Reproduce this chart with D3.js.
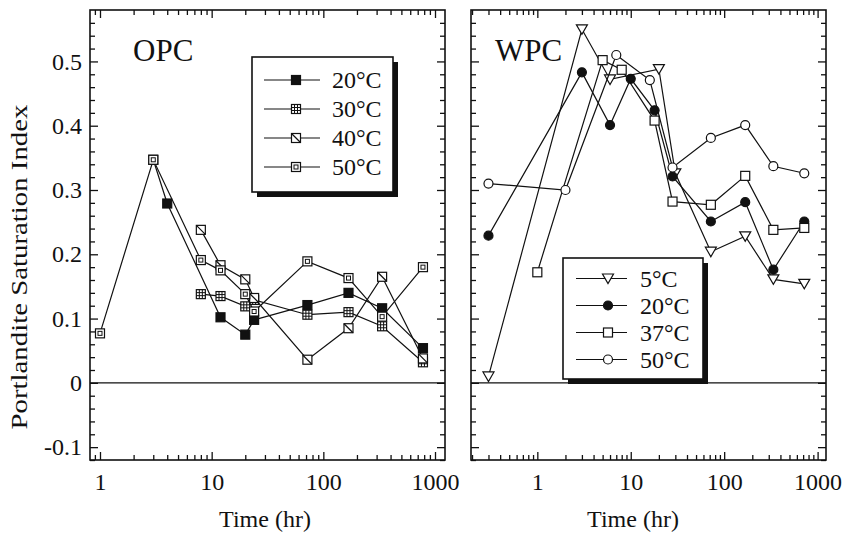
<!DOCTYPE html>
<html lang="en">
<head>
<meta charset="UTF-8">
<title>Portlandite Saturation Index</title>
<script src="https://d3js.org/d3.v7.min.js"></script>
<style>
  body { margin: 0; background: #fff; }
  svg { display: block; }
  text { font-family: "Liberation Serif", "Times New Roman", serif; fill: #111; }
  .frame { fill: none; stroke: #111; stroke-width: 1.6; }
  .tick line { stroke: #111; stroke-width: 1.3; }
  .series { fill: none; stroke: #111; stroke-width: 1.2; }
</style>
</head>
<body>
<svg id="chart" width="843" height="533"></svg>
<script>
// OPC panel, [time (hr), saturation index]
const opc20 = [[3, 0.347], [4, 0.279], [12, 0.102], [20, 0.075], [24, 0.098], [72, 0.121], [168, 0.140], [336, 0.116], [780, 0.054]];
const opc30 = [[8, 0.138], [12, 0.135], [20, 0.119], [24, 0.129], [72, 0.106], [168, 0.110], [336, 0.088], [780, 0.032]];
const opc40 = [[8, 0.238], [12, 0.183], [20, 0.161], [24, 0.132], [72, 0.036], [168, 0.085], [336, 0.165], [780, 0.038]];
const opc50 = [[1, 0.077], [3, 0.347], [8, 0.191], [12, 0.175], [20, 0.138], [24, 0.111], [72, 0.189], [168, 0.163], [336, 0.103], [780, 0.180]];

// WPC panel
const wpc5  = [[0.3, 0.010], [3, 0.550], [6, 0.472], [20, 0.488], [30, 0.326], [72, 0.204], [168, 0.228], [336, 0.161], [720, 0.154]];
const wpc20 = [[0.3, 0.229], [3, 0.483], [6, 0.401], [10, 0.473], [18, 0.424], [28, 0.321], [72, 0.251], [168, 0.281], [336, 0.176], [720, 0.251]];
const wpc37 = [[1, 0.172], [5, 0.502], [8, 0.487], [18, 0.408], [28, 0.282], [72, 0.277], [168, 0.322], [336, 0.238], [720, 0.241]];
const wpc50 = [[0.3, 0.310], [2, 0.300], [7, 0.510], [16, 0.471], [28, 0.335], [72, 0.381], [168, 0.401], [336, 0.337], [720, 0.326]];

const opcLabels = ["20°C", "30°C", "40°C", "50°C"];
const wpcLabels = ["5°C", "20°C", "37°C", "50°C"];
const yTickValues = [-0.1, 0, 0.1, 0.2, 0.3, 0.4, 0.5];
const xTickValues = [1, 10, 100, 1000];

const svg = d3.select("#chart");
const plotTop = 10, plotBottom = 460;

const y = d3.scaleLinear().domain([-0.12, 0.58]).range([plotBottom, plotTop]);
const yMinor = d3.range(-6, 29).map(i => +(i * 0.02).toFixed(2)).filter(v => Math.abs(v * 10 - Math.round(v * 10)) > 1e-6);

function minorLogTicks(domain) {
    const out = [];
    for (let e = -1; e <= 3; e++) {
        for (let m = 2; m <= 9; m++) {
            const v = m * Math.pow(10, e);
            if (v >= domain[0] && v <= domain[1]) out.push(v);
        }
    }
    return out;
}

function drawMarker(g, type, cx, cy) {
    const s = 9, h = s / 2;
    const stroke = "#111";
    if (type === "circFill" || type === "circ") {
        g.append("circle").attr("cx", cx).attr("cy", cy).attr("r", 4.5)
            .attr("fill", type === "circFill" ? stroke : "#fff")
            .attr("stroke", stroke).attr("stroke-width", 1.2);
        return;
    }
    if (type === "triDown") {
        g.append("path")
            .attr("d", `M${cx - 5.5},${cy - 4.5}L${cx + 5.5},${cy - 4.5}L${cx},${cy + 5}Z`)
            .attr("fill", "#fff").attr("stroke", stroke).attr("stroke-width", 1.2);
        return;
    }
    g.append("rect").attr("x", cx - h).attr("y", cy - h).attr("width", s).attr("height", s)
        .attr("fill", type === "sqFill" ? stroke : "#fff")
        .attr("stroke", stroke).attr("stroke-width", 1.2);
    if (type === "sqGrid") {
        [-1.5, 1.5].forEach(o => {
            g.append("line").attr("x1", cx + o).attr("x2", cx + o).attr("y1", cy - h).attr("y2", cy + h)
                .attr("stroke", stroke).attr("stroke-width", 1);
            g.append("line").attr("y1", cy + o).attr("y2", cy + o).attr("x1", cx - h).attr("x2", cx + h)
                .attr("stroke", stroke).attr("stroke-width", 1);
        });
    } else if (type === "sqDiag") {
        g.append("line").attr("x1", cx - h).attr("y1", cy - h).attr("x2", cx + h).attr("y2", cy + h)
            .attr("stroke", stroke).attr("stroke-width", 1.2);
    } else if (type === "sqBox") {
        g.append("rect").attr("x", cx - 2).attr("y", cy - 2).attr("width", 4).attr("height", 4)
            .attr("fill", "none").attr("stroke", stroke).attr("stroke-width", 1);
    }
}

function panel(opts) {
    const x = d3.scaleLog().domain(opts.domain).range([opts.x0, opts.x1]);
    const g = svg.append("g");

    // inward ticks on all four sides
    const yl = g.append("g").attr("transform", `translate(${opts.x0},0)`)
        .call(d3.axisLeft(y).tickValues(yTickValues).tickSize(-8).tickPadding(8)
            .tickFormat(opts.yLabels ? (d => d === 0 ? "0" : d.toFixed(1)) : ""));
    yl.selectAll("text").style("font-size", "24px");
    g.append("g").attr("transform", `translate(${opts.x0},0)`)
        .call(d3.axisLeft(y).tickValues(yMinor).tickSize(-5).tickFormat(""));
    g.append("g").attr("transform", `translate(${opts.x1},0)`)
        .call(d3.axisRight(y).tickValues(yTickValues).tickSize(-8).tickFormat(""));
    g.append("g").attr("transform", `translate(${opts.x1},0)`)
        .call(d3.axisRight(y).tickValues(yMinor).tickSize(-5).tickFormat(""));

    const xb = g.append("g").attr("transform", `translate(0,${plotBottom})`)
        .call(d3.axisBottom(x).tickValues(xTickValues).tickSize(-8).tickPadding(13).tickFormat(d => String(d)));
    xb.selectAll("text").style("font-size", "24px");
    g.append("g").attr("transform", `translate(0,${plotBottom})`)
        .call(d3.axisBottom(x).tickValues(minorLogTicks(opts.domain)).tickSize(-5).tickFormat(""));
    g.append("g").attr("transform", `translate(0,${plotTop})`)
        .call(d3.axisTop(x).tickValues(xTickValues).tickSize(-8).tickFormat(""));
    g.append("g").attr("transform", `translate(0,${plotTop})`)
        .call(d3.axisTop(x).tickValues(minorLogTicks(opts.domain)).tickSize(-5).tickFormat(""));
    g.selectAll(".domain").remove();
    g.selectAll(".tick text").attr("fill", "#111");

    // zero line
    g.append("line").attr("x1", opts.x0).attr("x2", opts.x1).attr("y1", y(0)).attr("y2", y(0))
        .attr("stroke", "#111").attr("stroke-width", 1.4);

    g.append("rect").attr("class", "frame")
        .attr("x", opts.x0).attr("y", plotTop).attr("width", opts.x1 - opts.x0).attr("height", plotBottom - plotTop);

    const line = d3.line().x(d => x(d[0])).y(d => y(d[1]));
    opts.series.forEach((s, i) => {
        g.append("path").attr("class", "series").attr("d", line(s));
        s.forEach(d => drawMarker(g, opts.markers[i], x(d[0]), y(d[1])));
    });

    g.append("text").attr("x", opts.titleX).attr("y", 61).style("font-size", "31px").text(opts.title);

    g.append("text").attr("x", opts.axisTitleX).attr("y", 527).attr("text-anchor", "middle")
        .style("font-size", "24px").text("Time (hr)");

    // legend with drop shadow
    const L = opts.legend;
    const lg = g.append("g");
    lg.append("rect").attr("x", L.x + 5).attr("y", L.y + 5).attr("width", L.w).attr("height", L.h).attr("fill", "#111");
    lg.append("rect").attr("x", L.x).attr("y", L.y).attr("width", L.w).attr("height", L.h)
        .attr("fill", "#fff").attr("stroke", "#111").attr("stroke-width", 1.6);
    opts.labels.forEach((lab, i) => {
        const ry = L.y + L.first + i * L.step;
        lg.append("line").attr("x1", L.x + L.lx0).attr("x2", L.x + L.lx1).attr("y1", ry).attr("y2", ry)
            .attr("stroke", "#111").attr("stroke-width", 1.2);
        drawMarker(lg, opts.markers[i], L.x + L.mx, ry);
        lg.append("text").attr("x", L.x + L.tx).attr("y", ry).attr("dy", "0.35em")
            .style("font-size", "24px").text(lab);
    });
}

panel({
    domain: [Math.pow(10, -0.0895), Math.pow(10, 3.0895)], x0: 90, x1: 445,
    yLabels: true, title: "OPC", titleX: 133, axisTitleX: 265,
    series: [opc20, opc30, opc40, opc50],
    markers: ["sqFill", "sqGrid", "sqDiag", "sqBox"],
    labels: opcLabels,
    legend: { x: 252, y: 57, w: 141, h: 135, first: 23, step: 29, lx0: 12, lx1: 68, mx: 44, tx: 80 }
});

panel({
    domain: [0.195, 1230], x0: 471, x1: 826,
    yLabels: false, title: "WPC", titleX: 495, axisTitleX: 633,
    series: [wpc5, wpc20, wpc37, wpc50],
    markers: ["triDown", "circFill", "sq", "circ"],
    labels: wpcLabels,
    legend: { x: 563, y: 258, w: 140, h: 121, first: 20.5, step: 27, lx0: 13, lx1: 64, mx: 45, tx: 77 }
});

svg.append("text")
    .attr("transform", "translate(19,267) rotate(-90)")
    .attr("text-anchor", "middle").attr("dy", "0.35em")
    .attr("textLength", 325).attr("lengthAdjust", "spacingAndGlyphs")
    .style("font-size", "23px")
    .text("Portlandite Saturation Index");
</script>
</body>
</html>
